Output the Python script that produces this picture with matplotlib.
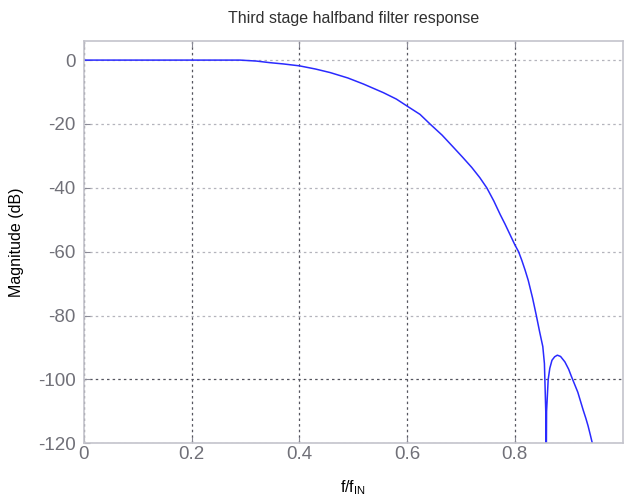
import matplotlib
matplotlib.use("Agg")
import matplotlib.pyplot as plt

plt.rcParams['font.family'] = ['Liberation Sans', 'DejaVu Sans']
plt.rcParams['mathtext.fontset'] = 'custom'
plt.rcParams['mathtext.rm'] = 'Liberation Sans'
plt.rcParams['mathtext.it'] = 'Liberation Sans'
plt.rcParams['axes.unicode_minus'] = False

# frequency (f/fIN) and magnitude (dB)
freq = [0, 0.1, 0.2, 0.29, 0.32, 0.345, 0.37, 0.4, 0.43, 0.457, 0.49,
        0.519, 0.556, 0.58, 0.6, 0.624, 0.6425, 0.665, 0.686, 0.703, 0.72,
        0.735, 0.748, 0.761, 0.773, 0.782, 0.791, 0.8, 0.807, 0.813, 0.819,
        0.825, 0.833, 0.84, 0.846, 0.852, 0.855, 0.8575, 0.858,
        0.859, 0.862, 0.865, 0.869, 0.874, 0.879, 0.885, 0.893, 0.9, 0.905,
        0.911, 0.917, 0.922, 0.927, 0.932, 0.936, 0.94, 0.944]
mag = [0, 0, 0, 0, -0.3, -0.8, -1.2, -1.8, -2.8, -3.9, -5.6,
       -7.5, -10.2, -12.2, -14.4, -17, -20, -23.5, -27.3, -30.4, -33.6,
       -36.8, -40, -44.1, -48.4, -51.4, -54.6, -57.8, -60, -62.7, -65.7,
       -69, -74.5, -80, -85, -89.7, -95, -110, -140,
       -110, -100, -96.5, -94, -92.9, -92.4, -92.8, -94.5, -96.8, -99,
       -101.5, -104, -106.8, -109.6, -112.2, -114.5, -117.2, -120]

xticks = [0, 0.2, 0.4, 0.6, 0.8]
xticklabels = ['0', '0.2', '0.4', '0.6', '0.8']
yticks = [-120, -100, -80, -60, -40, -20, 0]

fig = plt.figure(figsize=(6.24, 4.98), dpi=100)
ax = fig.add_axes([0.1346, 0.1098, 0.863, 0.808])

ax.plot(freq, mag, color='#2a2aff', linewidth=1.1)

ax.set_xlim(0, 1)
ax.set_ylim(-120, 6)
ax.set_xticks(xticks)
ax.set_xticklabels(xticklabels)
ax.set_yticks(yticks)

ax.tick_params(axis='both', direction='in', length=4, width=0.8,
               colors='#8a8a96', labelsize=13.5, labelcolor='#707078',
               top=True, right=False)
ax.tick_params(axis='y', pad=6)
ax.tick_params(axis='x', pad=2)
for s in ax.spines.values():
    s.set_color('#c4c4cc')
    s.set_linewidth(1.2)

ax.xaxis.grid(True, color='#55555f', linestyle=(0, (2, 2.5)), linewidth=0.9)
ax.yaxis.grid(True, color='#b4b4bc', linestyle=(0, (2, 2.5)), linewidth=0.9)
# the -100 line shows darker in the reference
ax.yaxis.get_gridlines()[1].set_color('#55555f')

ax.set_title('Third stage halfband filter response', fontsize=11.5, pad=13,
             color='#303030')
ax.set_ylabel('Magnitude (dB)', fontsize=11.5, labelpad=10)
ax.set_xlabel(r'f/f$_{\mathrm{IN}}$', fontsize=11.5, labelpad=11)

fig.savefig('out.png', dpi=100)
